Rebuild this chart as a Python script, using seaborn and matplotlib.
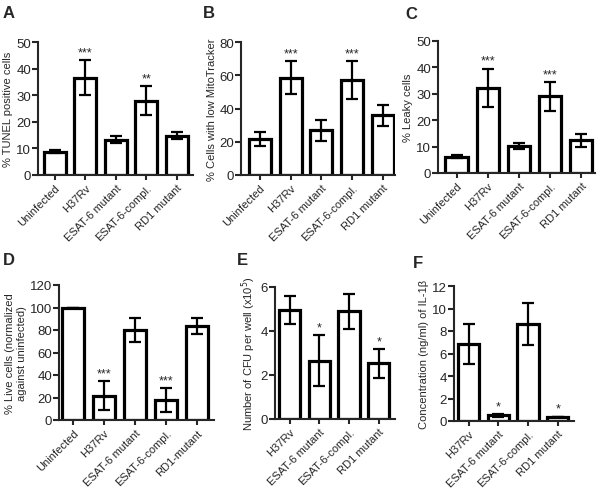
import matplotlib
matplotlib.use('Agg')
import matplotlib.pyplot as plt
import seaborn as sns
import numpy as np

sns.set_style('ticks')
plt.rcParams['font.family'] = ['Liberation Sans', 'DejaVu Sans']

# categories
cats5 = ['Uninfected', 'H37Rv', 'ESAT-6 mutant', 'ESAT-6-compl.', 'RD1 mutant']
cats5_d = ['Uninfected', 'H37Rv', 'ESAT-6 mutant', 'ESAT-6-compl.', 'RD1-mutant']
cats4 = ['H37Rv', 'ESAT-6 mutant', 'ESAT-6-compl.', 'RD1 mutant']

# A - TUNEL
tunel_mean = [8.7, 36.5, 13.2, 28.0, 14.8]
tunel_err = [0.6, 6.6, 1.3, 5.4, 1.3]
tunel_stars = ['', '***', '', '**', '']

# B - MitoTracker
mito_mean = [21.5, 58.5, 27.0, 57.0, 36.0]
mito_err = [4.2, 10.0, 6.3, 11.5, 6.3]
mito_stars = ['', '***', '', '***', '']

# C - leaky cells
leaky_mean = [6.2, 32.3, 10.3, 29.0, 12.4]
leaky_err = [0.5, 7.2, 1.1, 5.4, 2.4]
leaky_stars = ['', '***', '', '***', '']

# D - live cells
live_mean = [100, 21.5, 80.0, 17.5, 83.5]
live_err = [0, 13.0, 11.0, 10.8, 7.0]
live_stars = ['', '***', '', '***', '']

# E - CFU
cfu_mean = [4.95, 2.65, 4.9, 2.53]
cfu_err = [0.62, 1.15, 0.8, 0.65]
cfu_stars = ['', '*', '', '*']

# F - IL-1b
il1b_mean = [6.85, 0.5, 8.6, 0.35]
il1b_err = [1.8, 0.12, 1.85, 0.03]
il1b_stars = ['', '*', '', '*']

W, H = 602, 489
fig = plt.figure(figsize=(W / 100, H / 100), dpi=100)


def px_axes(left, right, top, bottom):
    return fig.add_axes([left / W, 1 - bottom / H, (right - left) / W, (bottom - top) / H])


def panel(rect, cats, means, errs, stars, ymax, yticks, ylabel, xlim, letter, letter_xy):
    ax = px_axes(*rect)
    sns.barplot(x=cats, y=means, ax=ax, color='white', edgecolor='black',
                linewidth=2.3, width=0.72, errorbar=None, saturation=1)
    ax.errorbar(np.arange(len(cats)), means, yerr=errs, fmt='none', ecolor='black',
                elinewidth=1.6, capsize=4.5, capthick=1.6)
    for i, s in enumerate(stars):
        if s:
            ax.text(i, means[i] + errs[i] + ymax * 0.015, s, ha='center', va='bottom', fontsize=9)
    ax.set_ylim(0, ymax)
    ax.set_yticks(yticks)
    ax.set_xlim(*xlim)
    ax.set_ylabel(ylabel, fontsize=8, labelpad=2)
    ax.tick_params(axis='y', labelsize=9.5, width=1.5, length=4, pad=1)
    ax.tick_params(axis='x', labelsize=8, width=1.5, length=3.5, pad=2)
    plt.setp(ax.get_xticklabels(), rotation=45, ha='right', rotation_mode='anchor')
    sns.despine(ax=ax)
    for sp in ['left', 'bottom']:
        ax.spines[sp].set_linewidth(1.5)
    fig.text(letter_xy[0] / W, 1 - letter_xy[1] / H, letter, fontsize=12, fontweight='bold',
             ha='left', va='top')
    return ax


panel((38, 193, 43, 176), cats5, tunel_mean, tunel_err, tunel_stars, 50, [0, 10, 20, 30, 40, 50],
      '% TUNEL positive cells', (-0.55, 4.53), 'A', (3, 6))
panel((241, 395, 43, 176), cats5, mito_mean, mito_err, mito_stars, 80, [0, 20, 40, 60, 80],
      '% Cells with low MitoTracker', (-0.61, 4.39), 'B', (203, 6))
panel((438, 595, 42, 174), cats5, leaky_mean, leaky_err, leaky_stars, 50, [0, 10, 20, 30, 40, 50],
      '% Leaky cells', (-0.6, 4.45), 'C', (405, 7))
panel((59, 214, 286, 421), cats5_d, live_mean, live_err, live_stars, 120, [0, 20, 40, 60, 80, 100, 120],
      '% Live cells (normalized\nagainst uninfected)', (-0.45, 4.55), 'D', (3, 253))
panel((275, 395, 288, 420), cats4, cfu_mean, cfu_err, cfu_stars, 6, [0, 2, 4, 6],
      'Number of CFU per well (x10$^5$)', (-0.5, 3.55), 'E', (237, 253))
panel((454, 574, 287, 422), cats4, il1b_mean, il1b_err, il1b_stars, 12, [0, 2, 4, 6, 8, 10, 12],
      'Concentration (ng/ml) of IL-1β', (-0.5, 3.55), 'F', (413, 256))

fig.savefig('out.png', dpi=100, facecolor='white')
